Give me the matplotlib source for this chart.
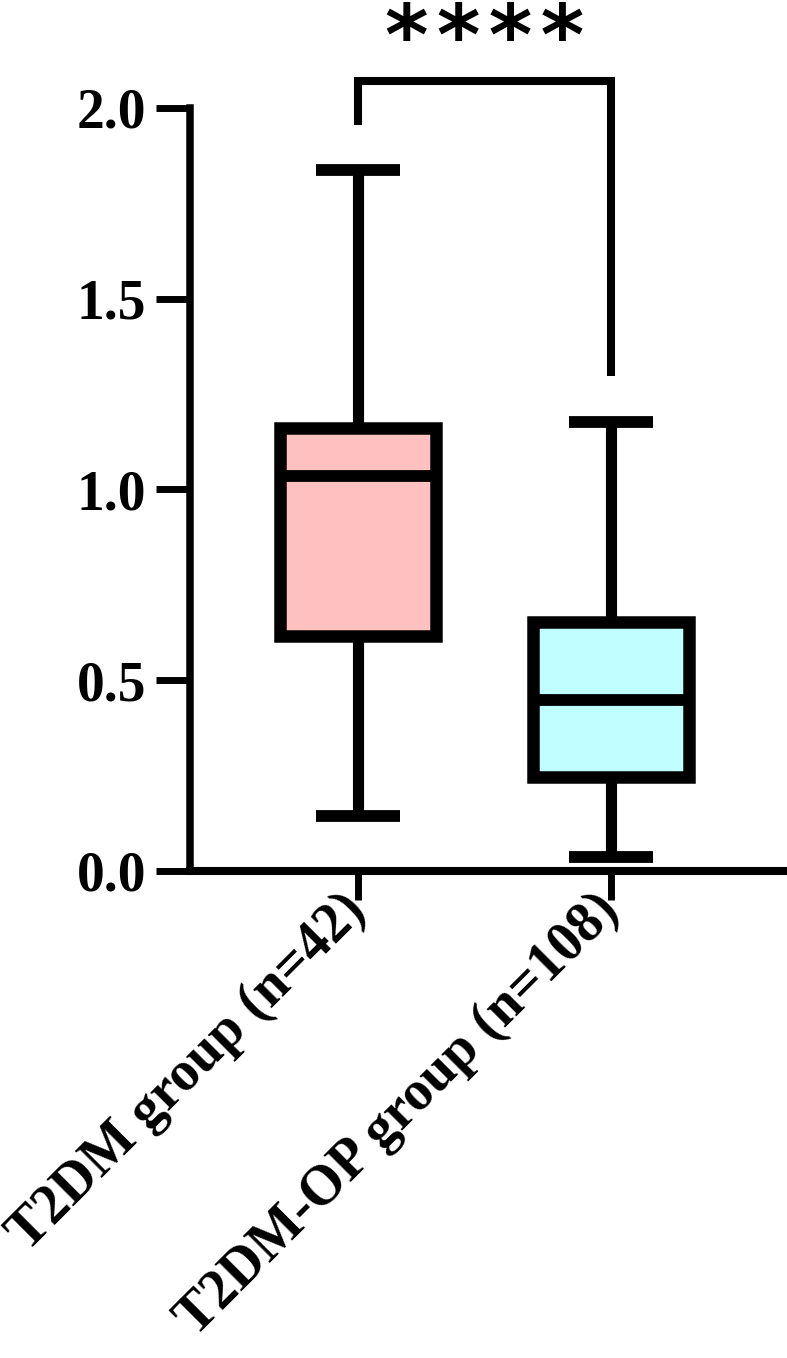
import matplotlib
matplotlib.use("Agg")
import matplotlib.pyplot as plt

# box plot summary values
groups = ["T2DM group (n=42)", "T2DM-OP group (n=108)"]
whisker_low = [0.144, 0.035]
q1 = [0.615, 0.246]
median = [1.035, 0.449]
q3 = [1.161, 0.652]
whisker_high = [1.837, 1.177]
fill_colors = ["#FFC0C0", "#C0FFFF"]
y_ticks = [0.0, 0.5, 1.0, 1.5, 2.0]
sig_label = "\u200a".join("****")
bracket_y = [1.955, 2.071, 2.071, 1.297]

plt.rcParams['font.family'] = ['Liberation Serif', 'DejaVu Serif']
plt.rcParams['font.weight'] = 'bold'

fig = plt.figure(figsize=(7.87, 13.58), dpi=100)
ax = fig.add_axes([0.2414, 0.3588, 0.7536, 0.5617])

stats = []
for i in range(len(groups)):
    stats.append({"label": groups[i], "whislo": whisker_low[i], "q1": q1[i],
                  "med": median[i], "q3": q3[i], "whishi": whisker_high[i]})

bp = ax.bxp(stats, positions=[1, 2], widths=0.613, patch_artist=True,
            showfliers=False, capwidths=0.33,
            boxprops=dict(linewidth=9, edgecolor='black'),
            whiskerprops=dict(linewidth=8, color='black', solid_capstyle='butt'),
            capprops=dict(linewidth=8.5, color='black', solid_capstyle='butt'),
            medianprops=dict(linewidth=8.5, color='black', solid_capstyle='butt'))
for patch, c in zip(bp['boxes'], fill_colors):
    patch.set_facecolor(c)

ax.set_xlim(0.336, 2.68)
ax.set_ylim(0, 2.0)
ax.spines['top'].set_visible(False)
ax.spines['right'].set_visible(False)
ax.spines['left'].set_linewidth(5.4)
ax.spines['bottom'].set_linewidth(5.8)

ax.set_yticks(y_ticks)
ax.set_yticklabels(["%.1f" % v for v in y_ticks])
ax.tick_params(axis='y', length=24.5, width=5, pad=7, labelsize=40)
ax.tick_params(axis='x', length=21, width=5, pad=2, labelsize=40)
ax.set_xticks([1, 2])
ax.set_xticklabels(groups, rotation=45, ha='right', va='center',
                   rotation_mode='anchor')

# significance bracket
ax.plot([1, 1, 2, 2], bracket_y, color='black', lw=5.8, clip_on=False,
        solid_joinstyle='miter', solid_capstyle='butt')
ax.text(1.5, 2.114, sig_label, ha='center', va='baseline', fontsize=60,
        fontfamily='DejaVu Sans', fontweight='bold', clip_on=False)

fig.savefig("out.png", dpi=100)
